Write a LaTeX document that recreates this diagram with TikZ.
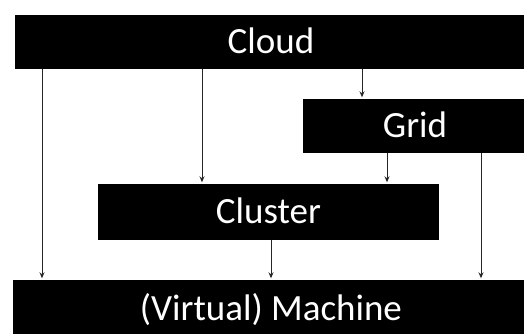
\documentclass[tikz,border=0pt]{standalone}
\usepackage{fontspec}
\setmainfont{Carlito}
\usetikzlibrary{arrows.meta}
\begin{document}
\begin{tikzpicture}[x=1pt,y=-1pt,
  box/.style={fill=black, text=white, inner sep=0pt, text height=23.5pt, text depth=0pt,
    font=\fontsize{37}{40}\selectfont},
  arr/.style={draw=black!85, line width=1pt, -{Stealth[length=6pt,width=5pt]}, shorten >=1.5pt}]
\path[use as bounding box] (0,0) rectangle (524,333);
\clip (0,0) rectangle (524,333);
\node[box, minimum width=512pt, minimum height=54pt] (cloud) at (271,42) {Cloud};
\node[box, minimum width=224pt, minimum height=54pt] (grid) at (415,126) {Grid};
\node[box, minimum width=341pt, minimum height=56pt] (cluster) at (268.5,212) {Cluster};
\node[box, minimum width=516pt, minimum height=58pt] (machine) at (271,309) {(Virtual) Machine};
\coordinate (x1) at (42,0);
\coordinate (x2) at (202,0);
\coordinate (x3) at (362,0);
\coordinate (x4) at (387,0);
\coordinate (x5) at (271,0);
\coordinate (x6) at (481,0);
\draw[arr] (cloud.south -| x1) -- (machine.north -| x1);
\draw[arr] (cloud.south -| x2) -- (cluster.north -| x2);
\draw[arr] (cloud.south -| x3) -- (grid.north -| x3);
\draw[arr] (grid.south -| x4) -- (cluster.north -| x4);
\draw[arr] (cluster.south -| x5) -- (machine.north -| x5);
\draw[arr] (grid.south -| x6) -- (machine.north -| x6);
\end{tikzpicture}
\end{document}
